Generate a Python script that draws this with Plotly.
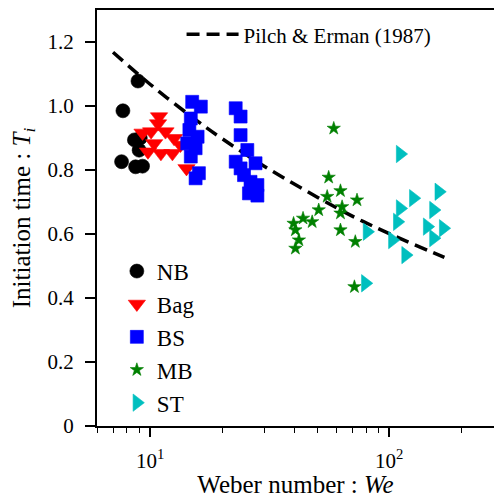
import math
import plotly.graph_objects as go

# Breakup regimes: Weber number (We) and initiation time (T_i)
nb_we = [7.7, 8.9, 8.6, 9.1, 9.0, 7.6, 8.7, 9.3]
nb_t = [0.985, 1.078, 0.894, 0.90, 0.862, 0.826, 0.81, 0.812]

bag_we = [10.9, 10.8, 10.1, 11.6, 9.3, 10.4, 12.6, 9.8, 11.1, 12.4, 13.4, 14.2]
bag_t = [0.967, 0.945, 0.92, 0.92, 0.916, 0.883, 0.899, 0.857, 0.852, 0.852, 0.878, 0.805]

bs_we = [15.0, 16.3, 14.8, 14.6, 15.8, 14.3, 15.5, 14.8, 16.0, 15.5,
         22.8, 23.9, 23.9, 25.5, 22.8, 23.9, 27.6, 24.7, 26.3, 28.1, 25.9, 28.1]
bs_t = [1.013, 0.998, 0.961, 0.925, 0.904, 0.883, 0.868, 0.842, 0.79, 0.774,
        0.993, 0.967, 0.909, 0.8625, 0.826, 0.805, 0.821, 0.784, 0.763, 0.753, 0.727, 0.72]

mb_we = [58.6, 55.8, 62.5, 55.0, 73.3, 63.5, 62.5, 50.7, 47.6, 43.6, 39.8,
         40.5, 41.9, 40.5, 62.5, 72.1, 71.5]
mb_t = [0.93, 0.777, 0.735, 0.717, 0.706, 0.685, 0.665, 0.675, 0.638, 0.649, 0.633,
        0.6125, 0.581, 0.555, 0.6125, 0.576, 0.435]

st_we = [111, 161, 126, 111, 153, 108, 144, 168, 80.7, 103, 153, 117, 79.4]
st_t = [0.85, 0.732, 0.712, 0.68, 0.675, 0.638, 0.623, 0.618, 0.607, 0.581, 0.587, 0.534, 0.446]

# Pilch & Erman (1987) correlation curve
pe_we = [7, 10, 15, 20, 30, 50, 70, 100, 170]
pe_t = [1.168, 1.068, 0.965, 0.898, 0.812, 0.715, 0.656, 0.601, 0.527]

y_ticks = [0, 0.2, 0.4, 0.6, 0.8, 1.0, 1.2]
y_tick_text = ["0", "0.2", "0.4", "0.6", "0.8", "1.0", "1.2"]
x_ticks = [10, 100]
x_tick_text = ["10<sup>1</sup>", "10<sup>2</sup>"]

FONT = "Liberation Serif"

fig = go.Figure()

fig.add_trace(go.Scatter(
    x=pe_we, y=pe_t, mode="lines", name="Pilch & Erman (1987)",
    line=dict(color="black", width=3.5, dash="13px,7px", shape="spline"),
    legend="legend2",
))

series = [
    ("NB", nb_we, nb_t, "circle", "black", 14),
    ("Bag", bag_we, bag_t, "triangle-down", "red", 15),
    ("BS", bs_we, bs_t, "square", "blue", 13),
    ("MB", mb_we, mb_t, "star", "green", 10),
    ("ST", st_we, st_t, "triangle-right", "#00bfbf", 15),
]
for name, xs, ys, sym, col, sz in series:
    fig.add_trace(go.Scatter(
        x=xs, y=ys, mode="markers", name=name, legendgroup=name,
        marker=dict(symbol=sym, color=col, size=sz,
                    line=dict(width=0.6, color=col)),
        legend="legend",
    ))

fig.update_layout(
    width=494, height=498,
    margin=dict(l=97, r=0, t=10, b=72),
    paper_bgcolor="white", plot_bgcolor="white",
    font=dict(family=FONT, color="black", size=21),
    showlegend=True,
    legend=dict(
        x=0.05, y=0.424, xanchor="left", yanchor="top",
        font=dict(family=FONT, size=23), bgcolor="rgba(0,0,0,0)",
        tracegroupgap=0, itemsizing="trace",
    ),
    legend2=dict(
        x=0.213, y=0.99, xanchor="left", yanchor="top",
        font=dict(family=FONT, size=21), bgcolor="rgba(0,0,0,0)",
        itemwidth=52,
    ),
)

fig.update_xaxes(
    type="log", range=[math.log10(6), math.log10(274)],
    showline=True, linecolor="black", linewidth=2, mirror=True,
    showgrid=False, zeroline=False,
    ticks="outside", ticklen=9, tickwidth=1.5, tickcolor="black",
    tickvals=x_ticks, ticktext=x_tick_text, ticklabelstandoff=6,
    minor=dict(ticks="outside", ticklen=5, tickwidth=1.2, tickcolor="black", showgrid=False,
               tickvals=[6, 7, 8, 9, 20, 30, 40, 50, 60, 70, 80, 90, 200]),
    tickfont=dict(family=FONT, size=21),
    title=dict(text="Weber number : <i>We</i>", font=dict(family=FONT, size=25), standoff=4),
)
fig.update_yaxes(
    range=[0, 1.3],
    showline=True, linecolor="black", linewidth=2, mirror=False,
    showgrid=False, zeroline=False,
    ticks="outside", ticklen=10, tickwidth=1.5, tickcolor="black",
    tickvals=y_ticks, ticktext=y_tick_text, ticklabelstandoff=7,
    tickfont=dict(family=FONT, size=21),
    title=dict(text="Initiation time : <i>T</i><sub><i>i</i></sub>",
               font=dict(family=FONT, size=25), standoff=10),
)

fig.write_html("out.html")
